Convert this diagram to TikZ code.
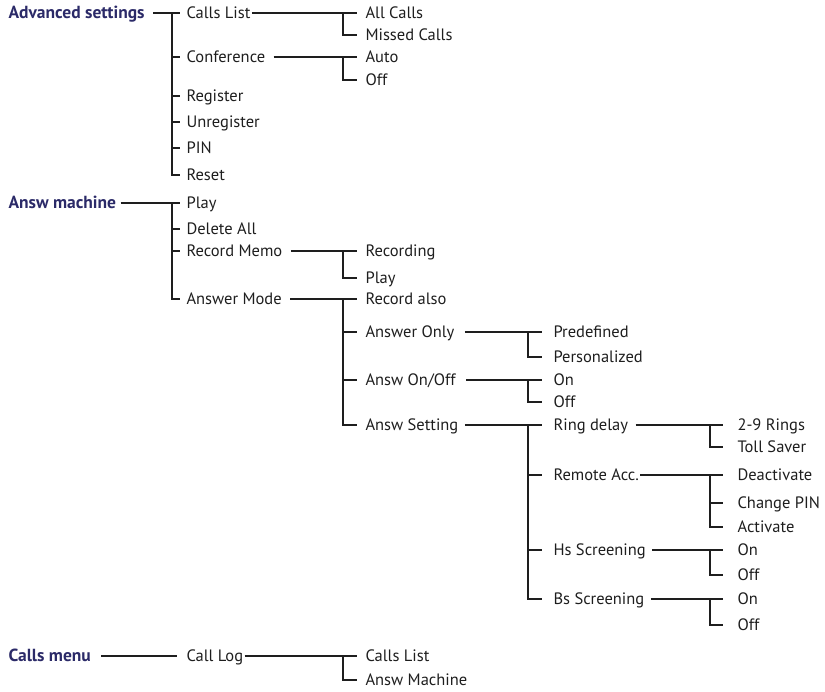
\documentclass[tikz,border=0pt]{standalone}
\usepackage{fontspec}
\setmainfont{PT Sans}
\definecolor{navy}{RGB}{43,42,104}
\definecolor{txt}{RGB}{30,30,30}
% #1 parent, #2 start gap, #3 bar coordinate, #4 gap before child, #5 first child, #6 last child
\newcommand\brtree[6]{%
  \draw ([xshift=#2pt]#1.east) -- (#1.east -| #3) -- ([xshift=-#4pt]#5.west);
  \draw (#5.west -| #3) -- (#6.west -| #3) -- ([xshift=-#4pt]#6.west);}
\newcommand\brtick[3]{\draw (#1.west -| #2) -- ([xshift=-#3pt]#1.west);}
\begin{document}
\begin{tikzpicture}[x=1pt,y=-1pt,line width=1.1pt,draw=txt,
  itm/.style={anchor=west,inner sep=0pt,text height=11.5pt,text depth=0pt,
    font=\fontsize{16.5}{18}\selectfont,text=txt},
  hdr/.style={itm,font=\fontsize{17.5}{19}\selectfont\bfseries,text=navy}]
\useasboundingbox (0,0) rectangle (825,692);
\coordinate (b1) at (172,0);
\coordinate (b2) at (343,0);
\coordinate (b3) at (528,0);
\coordinate (b4) at (710,0);
% headers
\node[hdr] (adv) at (8,13) {Advanced settings};
\node[hdr] (ans) at (8,203) {Answ machine};
\node[hdr] (cm) at (8,656) {Calls menu};
% level 1
\node[itm] (callslist) at (186,13) {Calls List};
\node[itm] (conf) at (186,57) {Conference};
\node[itm] (reg) at (186,96) {Register};
\node[itm] (unreg) at (186,122) {Unregister};
\node[itm] (pin) at (186,148) {PIN};
\node[itm] (reset) at (186,175) {Reset};
\node[itm] (play) at (186,203) {Play};
\node[itm] (del) at (186,229) {Delete All};
\node[itm] (rec) at (186,251) {Record Memo};
\node[itm] (amode) at (186,299) {Answer Mode};
\node[itm] (calllog) at (186,656) {Call Log};
% level 2
\node[itm] (allcalls) at (365,13) {All Calls};
\node[itm] (missed) at (365,35) {Missed Calls};
\node[itm] (auto) at (365,57) {Auto};
\node[itm] (off1) at (365,80) {Off};
\node[itm] (recording) at (365,251) {Recording};
\node[itm] (play2) at (365,278) {Play};
\node[itm] (recalso) at (365,299) {Record also};
\node[itm] (aonly) at (365,332) {Answer Only};
\node[itm] (aonoff) at (365,380) {Answ On/Off};
\node[itm] (asetting) at (365,425) {Answ Setting};
\node[itm] (clist) at (365,656) {Calls List};
\node[itm] (amach) at (365,680) {Answ Machine};
% level 3
\node[itm] (predef) at (553,332) {Predefined};
\node[itm] (personal) at (553,357) {Personalized};
\node[itm] (on1) at (553,380) {On};
\node[itm] (off2) at (553,402) {Off};
\node[itm] (ringdelay) at (553,425) {Ring delay};
\node[itm] (remote) at (553,475) {Remote Acc.};
\node[itm] (hs) at (553,550) {Hs Screening};
\node[itm] (bs) at (553,599) {Bs Screening};
% level 4
\node[itm] (rings) at (737,425) {2-9 Rings};
\node[itm] (toll) at (737,447) {Toll Saver};
\node[itm] (deact) at (737,475) {Deactivate};
\node[itm] (changepin) at (737,503) {Change PIN};
\node[itm] (activate) at (737,527) {Activate};
\node[itm] (on2) at (737,550) {On};
\node[itm] (off3) at (737,575) {Off};
\node[itm] (on3) at (737,599) {On};
\node[itm] (off4) at (737,625) {Off};
% connectors
\brtree{adv}{8}{b1}{6}{callslist}{reset}
\foreach \c in {conf,reg,unreg,pin} {\brtick{\c}{b1}{6}}
\brtree{ans}{4}{b1}{6}{play}{amode}
\foreach \c in {del,rec} {\brtick{\c}{b1}{6}}
\draw ([xshift=10pt]cm.east) -- ([xshift=-9pt]calllog.west);
\brtree{callslist}{1}{b2}{8}{allcalls}{missed}
\brtree{conf}{8}{b2}{8}{auto}{off1}
\brtree{rec}{8}{b2}{8}{recording}{play2}
\brtree{amode}{8}{b2}{8}{recalso}{asetting}
\foreach \c in {aonly,aonoff} {\brtick{\c}{b2}{8}}
\brtree{calllog}{1}{b2}{8}{clist}{amach}
\brtree{aonly}{10}{b3}{11}{predef}{personal}
\brtree{aonoff}{10}{b3}{11}{on1}{off2}
\brtree{asetting}{6}{b3}{11}{ringdelay}{bs}
\foreach \c in {remote,hs} {\brtick{\c}{b3}{11}}
\brtree{ringdelay}{7}{b4}{14}{rings}{toll}
\brtree{remote}{1}{b4}{14}{deact}{activate}
\brtick{changepin}{b4}{14}
\brtree{hs}{6}{b4}{14}{on2}{off3}
\brtree{bs}{6}{b4}{14}{on3}{off4}
\end{tikzpicture}
\end{document}
